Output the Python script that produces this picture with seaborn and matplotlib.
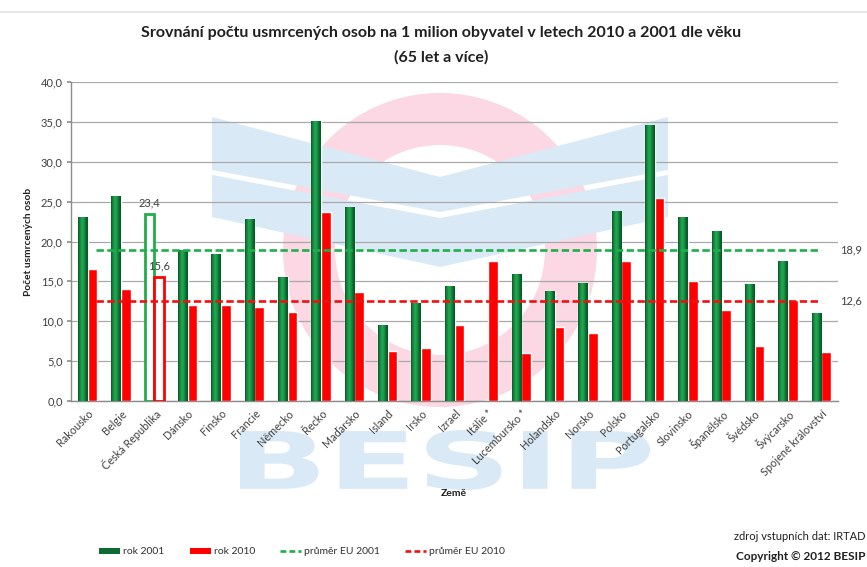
import numpy as np
import pandas as pd
import matplotlib
matplotlib.use("Agg")
import matplotlib.pyplot as plt
import seaborn as sns
from matplotlib.patches import Wedge, Polygon, PathPatch, Patch
from matplotlib.lines import Line2D
from matplotlib.transforms import Affine2D
from matplotlib.textpath import TextPath
from matplotlib.font_manager import FontProperties
from matplotlib.colors import LinearSegmentedColormap

# ---------------- data ----------------
countries = ["Rakousko", "Belgie", "Česká Republika", "Dánsko", "Finsko", "Francie",
             "Německo", "Řecko", "Maďarsko", "Island", "Irsko", "Izrael", "Itálie *",
             "Lucembursko *", "Holandsko", "Norsko", "Polsko", "Portugalsko",
             "Slovinsko", "Španělsko", "Švédsko", "Švýcarsko", "Spojené království"]
rok2001 = [23.0, 25.6, 23.4, 18.9, 18.4, 22.8, 15.5, 35.1, 24.3, 9.5, 12.2, 14.3, np.nan,
           15.8, 13.7, 14.7, 23.7, 34.5, 23.0, 21.3, 14.6, 17.5, 11.0]
rok2010 = [16.6, 14.0, 15.6, 12.1, 12.0, 11.8, 11.1, 23.7, 13.7, 6.3, 6.7, 9.5, 17.5,
           6.0, 9.3, 8.5, 17.6, 25.4, 15.1, 11.4, 6.9, 12.7, 6.1]
prumer_eu_2001 = 18.9
prumer_eu_2010 = 12.6
highlight = "Česká Republika"
series_names = ["rok 2001", "rok 2010"]
avg_names = ["průměr EU 2001", "průměr EU 2010"]
yticks = [0, 5, 10, 15, 20, 25, 30, 35, 40]

title1 = "Srovnání počtu usmrcených osob na 1 milion obyvatel v letech 2010 a 2001 dle věku"
title2 = "(65 let a více)"
ylabel = "Počet usmrcených osob"
xlabel = "Země"

df = pd.DataFrame({
    "země": countries * 2,
    "hodnota": rok2001 + rok2010,
    "rok": [series_names[0]] * len(countries) + [series_names[1]] * len(countries),
})

GREEN = "#128f40"
GREEN_LINE = "#1fae4a"
RED = "#ff0000"
TXT = "#404040"
FONT = "Lato"

sns.set_theme(style="white")
plt.rcParams["font.family"] = [FONT, "DejaVu Sans"]

W, H = 867, 567
fig = plt.figure(figsize=(W / 100, H / 100), dpi=100)
fig.patch.set_facecolor("white")

# pixel (top-left origin) transform for decorations
tpx = Affine2D().scale(1 / W, -1 / H).translate(0, 1) + fig.transFigure

# ---- watermark (BESIP logo) ----
ring = Wedge((440, 250), 157, 0, 360, width=52, transform=tpx,
             facecolor="#fbd8e3", edgecolor="none", zorder=-10)
fig.add_artist(ring)
blue = "#d9eaf6"
upper = Polygon([(212, 117), (440, 177), (668, 117), (668, 170), (440, 212), (212, 170)],
                closed=True, transform=tpx, facecolor=blue, edgecolor="none", zorder=-9)
lower = Polygon([(212, 175), (440, 218), (668, 175), (668, 217), (440, 267), (212, 217)],
                closed=True, transform=tpx, facecolor=blue, edgecolor="none", zorder=-9)
fig.add_artist(upper)
fig.add_artist(lower)
tp = TextPath((0, 0), "BESIP", size=1, prop=FontProperties(family="DejaVu Sans", weight="bold"))
bb = tp.get_extents()
x0, x1, ytop, ybot = 240, 650, 430, 490
ttrans = (Affine2D().translate(-bb.x0, -bb.y0)
          .scale((x1 - x0) / bb.width, -(ybot - ytop) / bb.height)
          .translate(x0, ybot) + tpx)
fig.add_artist(PathPatch(tp, transform=ttrans, facecolor=blue, edgecolor="none", zorder=-9))

# top border line
fig.add_artist(Line2D([0, 1], [1 - 12 / H, 1 - 12 / H], transform=fig.transFigure,
                      color="#e2e2e2", lw=1.2))

# ---- axes ----
ax = fig.add_axes([71 / W, 1 - 401 / H, (838 - 71) / W, (401 - 82) / H])
ax.patch.set_alpha(0)

sns.barplot(data=df, x="země", y="hodnota", hue="rok", order=countries,
            hue_order=series_names, palette=[GREEN, RED], width=0.58,
            saturation=1, legend=False, ax=ax, zorder=3, errorbar=None)

gcmap = LinearSegmentedColormap.from_list(
    "g", ["#0a5527", "#13893d", "#22a852", "#1a9a48", "#0c6a30", "#0a5527"])
grad = np.linspace(0, 1, 64).reshape(1, -1)

hi = countries.index(highlight)
for p in list(ax.patches):
    cx = p.get_x() + p.get_width() / 2
    h = p.get_height()
    if not np.isfinite(h):
        continue
    is_green = p.get_facecolor()[1] > p.get_facecolor()[0]
    if round(cx) == hi:
        col = GREEN_LINE if is_green else RED
        p.set_facecolor("white")
        p.set_edgecolor(col)
        p.set_linewidth(2.0)
        ax.annotate(f"{h:.1f}".replace(".", ","), (cx, h), xytext=(0, 4),
                    textcoords="offset points", ha="center", va="bottom",
                    fontsize=8, color=TXT, zorder=6)
    elif is_green:
        x = p.get_x()
        ax.imshow(grad, extent=(x, x + p.get_width(), 0, h), aspect="auto",
                  cmap=gcmap, interpolation="bilinear", zorder=3.1)

n = len(countries)
ax.hlines(prumer_eu_2001, 0.25, n - 1, colors=GREEN_LINE, lw=1.9,
          linestyles=(0, (2.8, 1.3)), zorder=4)
ax.hlines(prumer_eu_2010, 0.25, n - 1, colors="#f01010", lw=1.9,
          linestyles=(0, (2.8, 1.3)), zorder=4)
for v in (prumer_eu_2001, prumer_eu_2010):
    ax.text(n - 1 + 0.55, v, f"{v:.1f}".replace(".", ","), ha="left", va="center",
            fontsize=8, color=TXT, clip_on=False)

ax.set_xlim(-0.5, n - 0.5)
ax.set_ylim(0, 40)
ax.set_yticks(yticks)
ax.set_yticklabels([f"{t:.1f}".replace(".", ",") for t in yticks], fontsize=8, color=TXT)
ax.yaxis.grid(True, color="#a9a9a9", lw=0.9, zorder=0)
ax.set_axisbelow(True)
ax.set_xticks(range(n))
ax.set_xticklabels(countries, rotation=45, ha="right", va="top",
                   rotation_mode="anchor", fontsize=7.8, color=TXT)
ax.tick_params(axis="x", length=0, pad=5)
ax.tick_params(axis="y", length=3, color="#909090", pad=3, left=True)
for s in ["top", "right"]:
    ax.spines[s].set_visible(False)
for s in ["left", "bottom"]:
    ax.spines[s].set_color("#8c8c8c")
    ax.spines[s].set_linewidth(1.0)
ax.set_xlabel("")
ax.set_ylabel("")

fig.text(29 / W, 1 - 242 / H, ylabel, rotation=90, ha="center", va="center",
         fontsize=7.3, fontweight="bold", color="#202020")
fig.text(454 / W, 1 - 493 / H, xlabel, ha="center", va="center",
         fontsize=7.5, fontweight="bold", color="#202020")

fig.text(441 / W, 1 - 33 / H, title1, ha="center", va="center", fontsize=11.5,
         fontweight="bold", color="#202020")
fig.text(441 / W, 1 - 57 / H, title2, ha="center", va="center", fontsize=11.5,
         fontweight="bold", color="#202020")

handles = [Patch(facecolor="#0d6b31", edgecolor="none"),
           Patch(facecolor=RED, edgecolor="none"),
           Line2D([], [], color=GREEN_LINE, lw=1.9, linestyle=(0, (2.2, 1.2))),
           Line2D([], [], color="#f01010", lw=1.9, linestyle=(0, (2.2, 1.2)))]
fig.legend(handles, series_names + avg_names, loc="center", ncol=4,
           bbox_to_anchor=(302 / W, 1 - 552 / H), frameon=False, fontsize=7.5,
           handlelength=2.0, handleheight=0.6, handletextpad=0.3, columnspacing=2.4,
           labelcolor="#303030")

fig.text(865 / W, 1 - 537 / H, "zdroj vstupních dat: IRTAD", ha="right", va="center",
         fontsize=8, color="#202020")
fig.text(865 / W, 1 - 556 / H, "Copyright © 2012 BESIP", ha="right", va="center",
         fontsize=8.5, fontweight="bold", color="#202020")

fig.savefig("out.png", dpi=100, facecolor="white")
